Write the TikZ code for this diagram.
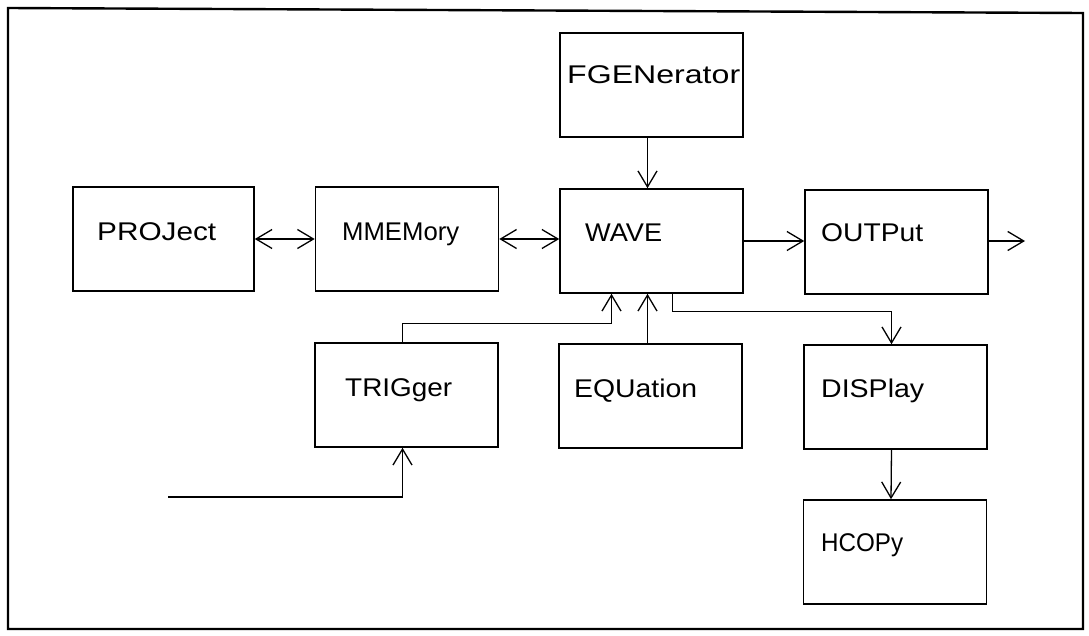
\documentclass[tikz,border=0pt]{standalone}
\usepackage{fontspec}
\setmainfont{Liberation Sans}
\usetikzlibrary{arrows.meta,calc}
\newsavebox\lblbox
\newcommand\lbl[2]{\sbox\lblbox{#2}\pgfmathsetmacro\lblsx{#1/\the\wd\lblbox}\scalebox{\lblsx}[1.08]{\usebox\lblbox}}
\tikzset{
  blk/.style={draw, line width=1.6pt, rectangle, minimum width=183pt, minimum height=104pt, inner sep=0pt},
  txt/.style={anchor=base west, inner sep=0pt, font=\fontsize{23.7}{28}\selectfont},
  conn/.style={line width=1.3pt},
  tip/.tip={Straight Barb[length=16pt,width=19pt,line width=1.3pt]},
  arr/.style={conn, -tip},
  darr/.style={conn, tip-tip},
}
\begin{document}
\begin{tikzpicture}[x=1pt, y=-1pt]
\useasboundingbox (0,0) rectangle (1089,635);
\draw[line width=2.4pt] (8,8) -- (1083,13) -- (1083,629) -- (8,629) -- cycle;
% boxes
\node[blk] (FGEN) at (651.5,85) {};
\node[blk] (WAVE) at (651.5,241) {};
\node[blk, minimum width=181pt] (PROJ) at (163.5,239) {};
\node[blk] (MMEM) at (407,239) {};
\node[blk] (OUTP) at (896.5,242) {};
\node[blk] (TRIG) at (406.5,395) {};
\node[blk] (EQU) at (650.5,396) {};
\node[blk] (DISP) at (895.5,397) {};
\node[blk] (HCOP) at (895,552) {};
% labels
\node[txt] (tFGEN) at (567,83) {\lbl{173}{FGENerator}};
\node[txt] (tWAVE) at (585,241) {\lbl{77}{WAVE}};
\node[txt] (tPROJ) at (97,240) {\lbl{119}{PROJect}};
\node[txt] (tMMEM) at (342,240) {\lbl{117}{MMEMory}};
\node[txt] (tOUTP) at (821,241) {\lbl{102}{OUTPut}};
\node[txt] (tTRIG) at (345,396) {\lbl{107}{TRIGger}};
\node[txt] (tEQU) at (574,397) {\lbl{123}{EQUation}};
\node[txt] (tDISP) at (821,397) {\lbl{103}{DISPlay}};
\node[txt] (tHCOP) at (821,551) {\lbl{82}{HCOPy}};
% free ends
\coordinate (outend) at (1025,241);
\coordinate (trigin) at (168,497);
% connectors
\draw[arr] ($(FGEN.south)+(-4,0)$) -- ($(WAVE.north)+(-4,0)$);
\draw[darr] (PROJ.east) -- (MMEM.west);
\draw[darr] (MMEM.east) -- (MMEM.east -| WAVE.west);
\draw[arr] (WAVE.east) -- (WAVE.east -| OUTP.west);
\draw[arr] (OUTP.east |- outend) -- (outend);
\draw[arr] ($(TRIG.north)+(-4,0)$) -- ++(0,-19) -| ($(WAVE.south)+(-40,0)$);
\draw[arr] ($(EQU.north)+(-3,0)$) -- ($(WAVE.south)+(-4,0)$);
\draw[arr] ($(WAVE.south)+(21,0)$) -- ++(0,18) -| ($(DISP.north)+(-4,0)$);
\draw[arr] ($(DISP.south)+(-4,0)$) -- ($(HCOP.north)+(-4,0)$);
\draw[arr] (trigin) -| ($(TRIG.south)+(-4,0)$);
\end{tikzpicture}
\end{document}
